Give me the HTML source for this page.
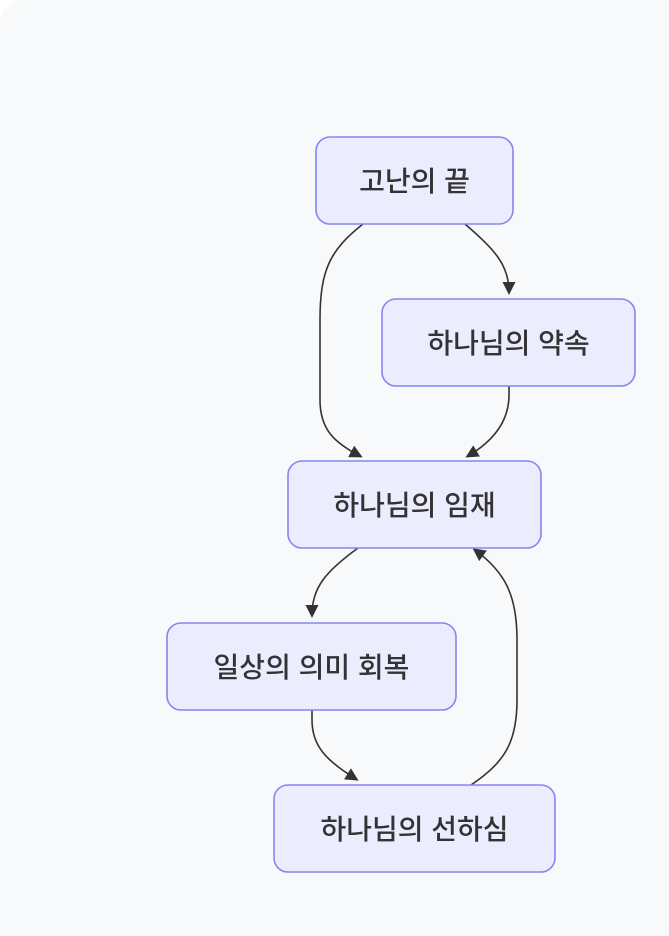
<!DOCTYPE html>
<html><head><meta charset="utf-8"><style>
html,body{margin:0;padding:0;background:#fff;}
.wrap{position:relative;width:669px;height:936px;background:#f8f9fb;border-top-left-radius:22px;overflow:hidden;}
svg{position:absolute;left:0;top:0;}
text{font-family:"Liberation Sans","Noto Sans CJK KR",sans-serif;font-size:28px;font-weight:500;fill:#333;}
</style></head><body><div class="wrap">
<svg width="669" height="936" viewBox="0 0 669 936">
<defs><marker id="a" markerWidth="13" markerHeight="13" refX="10" refY="6.5" orient="auto" markerUnits="userSpaceOnUse"><path d="M0,0 L13,6.5 L0,13 z" fill="#333"/></marker></defs>
<g fill="none" stroke="#333" stroke-width="1.6">
<path d="M363,224 C330,250 320,270 320,320 L320,400 C320,430 335,443 360,456" marker-end="url(#a)"/>
<path d="M465,224 C495,250 509,265 509,292" marker-end="url(#a)"/>
<path d="M509,386 L509,395 C509,420 495,440 468,456" marker-end="url(#a)"/>
<path d="M358,548 C325,572 312,588 312,615" marker-end="url(#a)"/>
<path d="M312,710 L312,720 C312,745 325,760 356,779" marker-end="url(#a)"/>
<path d="M471,785 C505,762 517,742 517,700 L517,640 C517,595 505,572 475,550" marker-end="url(#a)"/>
</g>
<g fill="#ececff" stroke="#8585f2" stroke-width="1.6">
<rect x="316" y="137" width="197" height="87" rx="14"/>
<rect x="382" y="299" width="253" height="87" rx="14"/>
<rect x="288" y="461" width="253" height="87" rx="14"/>
<rect x="167" y="623" width="289" height="87" rx="14"/>
<rect x="274" y="785" width="281" height="87" rx="14"/>
</g>
<g text-anchor="middle">
<text x="414.5" y="191">고난의 끝</text>
<text x="508.5" y="353">하나님의 약속</text>
<text x="414.5" y="515">하나님의 임재</text>
<text x="311.5" y="677">일상의 의미 회복</text>
<text x="414.5" y="839">하나님의 선하심</text>
</g>
</svg></div></body></html>
